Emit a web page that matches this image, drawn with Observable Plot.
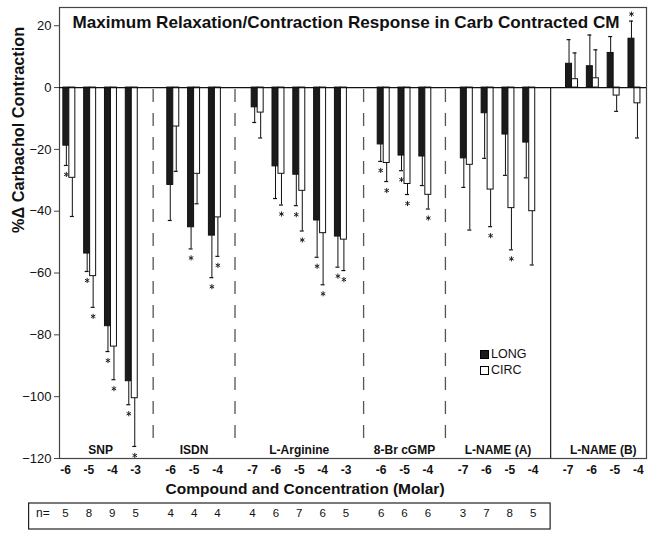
<!DOCTYPE html>
<html><head><meta charset="utf-8">
<script src="https://cdn.jsdelivr.net/npm/d3@7"></script>
<script src="https://cdn.jsdelivr.net/npm/@observablehq/plot@0.6"></script>
<style>
body{margin:0;background:#fff;}
#wrap{position:relative;width:654px;height:536px;font-family:"Liberation Sans",Arial,sans-serif;}
.leg{position:absolute;left:480px;font-size:12.5px;color:#111;display:flex;align-items:center;line-height:1;}
.sw{width:9px;height:9px;border:1px solid #000;margin-right:2px;box-sizing:border-box;}
</style></head><body><div id="wrap"></div>
<script>
const title = "Maximum Relaxation/Contraction Response in Carb Contracted CM";
const groups = ["SNP", "ISDN", "L-Arginine", "8-Br cGMP", "L-NAME (A)", "L-NAME (B)"];
const concentrations = [[-6,-5,-4,-3],[-6,-5,-4],[-7,-6,-5,-4,-3],[-6,-5,-4],[-7,-6,-5,-4],[-7,-6,-5,-4]];
const longMean = [-18.8,-53.7,-77.2,-95.0, -31.5,-45.2,-47.9, -6.4,-25.5,-28.2,-43.0,-48.2, -18.4,-22.0,-22.3, -22.9,-8.3,-15.2,-17.8, 7.7,6.9,11.2,15.8];
const longSEM  = [6.4,5.8,8.2,7.6, 11.5,7.0,13.6, 4.9,10.4,10.0,11.9,9.9, 5.5,4.9,9.4, 9.4,14.6,13.2,11.4, 7.8,10.1,5.3,5.7];
const circMean = [-29.2,-61.0,-83.8,-100.5, -12.6,-27.9,-42.0, -8.1,-27.9,-33.4,-47.1,-49.2, -24.4,-31.2,-34.7, -25.0,-33.0,-39.0,-40.0, 2.7,3.0,-2.6,-5.1];
const circSEM  = [12.5,10.1,10.7,15.6, 14.5,9.7,12.6, 8.2,10.1,13.0,16.7,10.0, 6.0,3.4,4.6, 21.1,12.0,13.5,17.4, 8.5,9.2,5.1,11.2];
const longSig  = [1,1,1,1, 0,1,1, 0,0,1,1,1, 1,1,0, 0,0,0,0, 0,0,0,1];
const circSig  = [0,1,1,1, 0,0,1, 0,1,1,1,1, 1,1,1, 0,1,1,0, 0,0,0,0];
const nValues  = [5,8,9,5, 4,4,4, 4,6,7,6,5, 6,6,6, 3,7,8,5];
const yTicks = [20,0,-20,-40,-60,-80,-100,-120];
const seriesNames = ["LONG", "CIRC"];

// layout in category-slot units
const GAP = 0.5, BAR_STEP = 0.89, BAR_W = 0.256, CAP = 0.085;
const cats = [];
const groupInfo = [];
let k = 0;
groups.forEach((g, gi) => {
  const start = k;
  concentrations[gi].forEach((c, i) => {
    cats.push({group: g, gi, i, conc: c, k, L: k + GAP * gi});
    k++;
  });
  const members = cats.slice(start);
  const Lc = d3.mean(members, d => d.L);
  groupInfo.push({group: g, center: Lc, first: members[0].L, last: members[members.length - 1].L});
});
cats.forEach(d => { d.bc = groupInfo[d.gi].center + (d.i - (concentrations[d.gi].length - 1) / 2) * BAR_STEP; });

const bars = [];
cats.forEach(d => {
  [[longMean, longSEM, longSig, 0], [circMean, circSEM, circSig, 1]].forEach(([m, s, sig, si]) => {
    const v = m[d.k], e = s[d.k], sign = v >= 0 ? 1 : -1;
    const x1 = si === 0 ? d.bc - BAR_W : d.bc, x2 = si === 0 ? d.bc : d.bc + BAR_W;
    bars.push({series: seriesNames[si], x1, x2, xc: (x1 + x2) / 2, v, end: v + sign * e, sig: sig[d.k], sign});
  });
});
const dividers = [];
for (let g = 0; g < groupInfo.length - 1; g++) {
  dividers.push({x: (groupInfo[g].last + groupInfo[g + 1].first) / 2, solid: g === groupInfo.length - 2});
}
const x0 = cats[0].L - 0.256, x1d = cats[cats.length - 1].L + 0.35;
const solidX = dividers[dividers.length - 1].x;
const nCats = cats.filter(d => d.gi < groups.length - 1);

const font = "Liberation Sans, Arial, sans-serif";
const chart = Plot.plot({
  width: 654, height: 536,
  marginLeft: 59, marginRight: 8, marginTop: 7, marginBottom: 78,
  style: {fontFamily: font, fontSize: "13px", background: "white", color: "#111", overflow: "visible"},
  x: {domain: [x0, x1d], axis: null},
  y: {domain: [-120, 25.9], axis: null},
  marks: [
    Plot.frame({stroke: "#444", strokeWidth: 1.2}),
    Plot.ruleX(dividers.filter(d => !d.solid), {x: "x", y1: -0.6, y2: -117, stroke: "#555", strokeWidth: 1.3, strokeDasharray: "13,11"}),
    Plot.ruleX(dividers.filter(d => d.solid), {x: "x", y1: 0, y2: -120, stroke: "#222", strokeWidth: 1.2}),
    Plot.ruleX(bars, {x: "xc", y1: "v", y2: "end", stroke: "#111", strokeWidth: 1}),
    Plot.ruleY(bars, {y: "end", x1: d => d.xc - CAP, x2: d => d.xc + CAP, stroke: "#111", strokeWidth: 1.2}),
    Plot.rect(bars, {x1: "x1", x2: "x2", y1: 0, y2: "v", fill: d => d.series === "LONG" ? "#1b1b1b" : "#fff", stroke: "#111", strokeWidth: 1}),
    Plot.ruleY([0], {stroke: "#111", strokeWidth: 1.2}),
    Plot.dot(bars.filter(d => d.sig && d.sign < 0), {x: "xc", y: "end", symbol: "asterisk", r: 2.4, dy: 9, stroke: "#222", strokeWidth: 1}),
    Plot.dot(bars.filter(d => d.sig && d.sign > 0), {x: "xc", y: "end", symbol: "asterisk", r: 2.4, dy: -7, stroke: "#222", strokeWidth: 1}),
    Plot.axisY({ticks: yTicks, tickSize: 5, tickPadding: 3, label: null, fontSize: 13, stroke: "#444", fill: "#111"}),
    Plot.text([title], {frameAnchor: "top-left", dx: 13, dy: 20, lineAnchor: "bottom", textAnchor: "start", fontSize: 17.1, fontWeight: "bold", fill: "#111"}),
    Plot.text(groupInfo, {x: "center", frameAnchor: "bottom", text: "group", dy: -5, lineAnchor: "bottom", fontSize: 12, fontWeight: "bold", fill: "#111"}),
    Plot.text(cats, {x: "L", frameAnchor: "bottom", text: d => String(d.conc), dy: 15, lineAnchor: "bottom", fontSize: 12, fontWeight: "bold", fill: "#111"}),
    Plot.text(["Compound and Concentration (Molar)"], {x: () => (x0 + solidX) / 2, frameAnchor: "bottom", dy: 35, lineAnchor: "bottom", fontSize: 15.5, fontWeight: "bold", fill: "#111"}),
    Plot.text(["%\u0394 Carbachol Contraction"], {frameAnchor: "left", rotate: -90, dx: -41, fontSize: 16.3, fontWeight: "bold", fill: "#111"}),
    Plot.rect([0], {x1: x0 - 1.3, x2: solidX, y1: -120, y2: -120, insetTop: 45, insetBottom: -71, fill: "none", stroke: "#222", strokeWidth: 1.2}),
    Plot.text(["n="], {x: x0 - 1.3, frameAnchor: "bottom", dx: 7, dy: 58, textAnchor: "start", fontSize: 12, fill: "#111"}),
    Plot.text(nCats, {x: "L", frameAnchor: "bottom", text: d => String(nValues[d.k]), dy: 58, fontSize: 11.5, fill: "#111"})
  ]
});
const wrap = document.getElementById("wrap");
wrap.appendChild(chart);
const leg = document.createElement("div");
leg.innerHTML = `<div class="leg" style="top:348px"><span class="sw" style="background:#1b1b1b"></span>${seriesNames[0]}</div>
<div class="leg" style="top:364px"><span class="sw" style="background:#fff"></span>${seriesNames[1]}</div>`;
wrap.appendChild(leg);
</script></body></html>
